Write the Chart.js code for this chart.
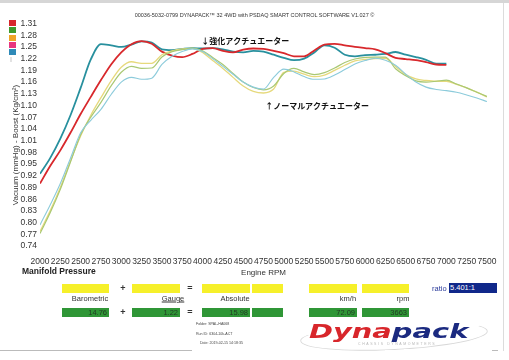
<!DOCTYPE html>
<html>
<head>
<meta charset="utf-8">
<title>Dynapack manifold pressure</title>
<script src="https://cdn.jsdelivr.net/npm/chart.js@4.4.1/dist/chart.umd.min.js"></script>
<style>
  html, body { margin: 0; padding: 0; background: #fff; }
  #page { position: relative; width: 509px; height: 360px; overflow: hidden; background: #fff;
          font-family: 'Liberation Sans', Arial, sans-serif; color: #222; }
  #edge-top { position: absolute; left: 0; top: 0; width: 509px; height: 3px; background: #d6d6d6; }
  #edge-right { position: absolute; left: 503px; top: 3px; width: 1px; height: 348px; background: #dcdcdc; }
  #chart-box { position: absolute; left: 0; top: 0; width: 509px; height: 285px; }
  #head { position: absolute; left: 0; width: 509px; top: 12px; text-align: center;
          font-size: 5.5px; color: #333; white-space: nowrap; }
  #ytitle { position: absolute; left: 15px; top: 145px; transform: translate(-50%, -50%) rotate(-90deg);
            font-size: 8px; white-space: nowrap; color: #333; }
  .leg { position: absolute; left: 9px; width: 7px; height: 6px; }
  #mp { position: absolute; left: 22px; top: 266px; font-weight: bold; font-size: 8.5px; color: #222; }
  .box { position: absolute; height: 9px; box-sizing: border-box; }
  .yel { background: #f6f02a; top: 284px; }
  .grn { background: #2f9636; top: 308px; color: #213d24; font-size: 7.5px; text-align: right;
         line-height: 9px; padding-right: 2px; }
  .op { position: absolute; font-size: 9px; font-weight: bold; color: #333; transform: translate(-50%, -50%); }
  .lab { position: absolute; top: 298px; font-size: 7.5px; color: #333; transform: translate(-50%, -50%); }
  #ratio { position: absolute; left: 432px; top: 284px; font-size: 7.5px; color: #2a3a9a; }
  #ratio-box { position: absolute; left: 449px; top: 283px; width: 48px; height: 10px; background: #10288a;
               color: #fff; font-size: 7.5px; line-height: 10px; padding-left: 1px; box-sizing: border-box; }
  .info { position: absolute; left: 196px; font-size: 3.6px; color: #444; white-space: nowrap; }
  #swoosh { position: absolute; left: 300px; top: 322px; width: 186px; height: 26px; border: 1.5px solid #d8d8d8;
            border-radius: 50%; transform: rotate(-3deg); border-top-color: transparent; }
  #logo { position: absolute; left: 309px; top: 321px; font-family: 'DejaVu Sans', sans-serif; font-weight: bold;
          font-style: italic; font-size: 19px; line-height: 20px; white-space: nowrap; transform-origin: left top;
          transform: scaleX(1.52); }
  #logo .a { color: #d8262b; }
  #logo .b { color: #1b2a80; }
  #logo-sub { position: absolute; left: 358px; top: 342px; font-size: 3.5px; color: #b8b8b8; letter-spacing: 1.6px; white-space: nowrap; }
  #rule-l { position: absolute; left: 0; top: 350px; width: 192px; height: 1px; background: #bbb; }
  #rule-r { position: absolute; left: 492px; top: 350px; width: 6px; height: 1px; background: #bbb; }
</style>
</head>
<body>
<div id="page">
  <div id="edge-top"></div>
  <div id="edge-right"></div>
  <div id="chart-box"><canvas id="chart" width="509" height="285"></canvas></div>
  <div id="head">00036-5032-0799 DYNAPACK™ 32 4WD with PSDAQ SMART CONTROL SOFTWARE V1.027 ©</div>
  <div id="ytitle">Vacuum (mmHg) - Boost (Kg/cm²)</div>
  <div id="legend"></div>
  <div id="mp">Manifold Pressure</div>
  <div id="panel"></div>
  <div id="swoosh"></div>
  <div id="logo"><span class="a">Dyna</span><span class="b">pack</span></div>
  <div id="logo-sub">CHASSIS DYNAMOMETERS</div>
  <div id="rule-l"></div>
  <div id="rule-r"></div>
</div>
<script>
// engine rpm grid (every 125 rpm)
const rpm = [2000, 2125, 2250, 2375, 2500, 2625, 2750, 2875, 3000, 3125, 3250, 3375, 3500, 3625, 3750,
             3875, 4000, 4125, 4250, 4375, 4500, 4625, 4750, 4875, 5000, 5125, 5250, 5375, 5500, 5625,
             5750, 5875, 6000, 6125, 6250, 6375, 6500, 6625, 6750, 6875, 7000, 7125, 7250, 7375, 7500];

// boost (Kg/cm2) - strong actuator runs
const strongRed = [0.900, 0.945, 0.985, 1.030, 1.078, 1.122, 1.165, 1.205, 1.236, 1.257, 1.265, 1.258, 1.238, 1.228, 1.224,
                   1.232, 1.245, 1.247, 1.240, 1.236, 1.243, 1.246, 1.245, 1.240, 1.234, 1.226, 1.226, 1.241, 1.256, 1.258,
                   1.254, 1.250, 1.247, 1.244, 1.234, 1.222, 1.219, 1.216, 1.211, 1.205, 1.204, null, null, null, null];
const strongBlue = [0.925, 0.965, 1.015, 1.075, 1.145, 1.218, 1.257, 1.254, 1.250, 1.256, 1.264, 1.261, 1.244, 1.242, 1.245,
                    1.247, 1.246, 1.247, 1.244, 1.238, 1.236, 1.240, 1.238, 1.230, 1.222, 1.216, 1.220, 1.236, 1.254, 1.248,
                    1.230, 1.226, 1.229, 1.230, 1.232, 1.237, 1.230, 1.224, 1.217, 1.207, 1.207, null, null, null, null];

// normal actuator runs
const normalYellow = [0.777, 0.830, 0.890, 0.958, 1.022, 1.075, 1.120, 1.163, 1.198, 1.212, 1.208, 1.208, 1.230, 1.240, 1.245,
                      1.246, 1.236, 1.215, 1.195, 1.172, 1.150, 1.136, 1.132, 1.142, 1.185, 1.188, 1.180, 1.174, 1.178, 1.190,
                      1.203, 1.214, 1.218, 1.220, 1.221, 1.200, 1.179, 1.168, 1.164, 1.162, 1.162, 1.154, 1.145, 1.134, 1.122];
const normalGreen = [0.772, 0.825, 0.885, 0.955, 1.025, 1.070, 1.108, 1.150, 1.185, 1.200, 1.195, 1.196, 1.224, 1.238, 1.243,
                     1.247, 1.240, 1.223, 1.205, 1.182, 1.160, 1.146, 1.140, 1.150, 1.182, 1.195, 1.186, 1.179, 1.184, 1.196,
                     1.210, 1.219, 1.223, 1.224, 1.224, 1.194, 1.176, 1.163, 1.160, 1.162, 1.165, 1.155, 1.145, 1.134, 1.123];
const normalCyan = [0.794, 0.845, 0.900, 0.965, 1.030, 1.062, 1.090, 1.128, 1.160, 1.172, 1.167, 1.170, 1.205, 1.226, 1.238,
                    1.245, 1.238, 1.220, 1.200, 1.180, 1.160, 1.147, 1.142, 1.172, 1.193, 1.186, 1.174, 1.167, 1.168, 1.178,
                    1.192, 1.206, 1.215, 1.221, 1.216, 1.203, 1.180, 1.160, 1.147, 1.141, 1.138, 1.134, 1.127, 1.119, 1.110];

// readout panel
const readLabels = ['Barometric', 'Gauge', 'Absolute', 'km/h', 'rpm'];
const readValues = ['14.76', '1.22', '15.98', '', '72.09', '3663'];
const gearRatio = '5.401:1';
const runInfo = ['Folder:  SPAL-HA068', 'Run ID:  6304-10k-ACT', 'Date:  2019-02-15 14:18:35'];

const legendColors = ['#d6262c', '#3e9a2d', '#f0a428', '#e8357f', '#2f8ab8'];

const notes = [
  { text: '↓強化アクチュエーター', rpm: 3985, value: 1.266 },
  { text: '↑ノーマルアクチュエーター', rpm: 4770, value: 1.100 }
];

// legend squares
const legend = document.getElementById('legend');
legendColors.forEach((c, i) => {
  const d = document.createElement('div');
  d.className = 'leg';
  d.style.top = (20 + i * 7.3) + 'px';
  d.style.background = c;
  legend.appendChild(d);
});
const faint = document.createElement('div');
faint.className = 'leg';
faint.style.cssText = 'top:57px;left:10px;width:2px;height:5px;background:#e2e2e2';
legend.appendChild(faint);

// readout boxes
const panel = document.getElementById('panel');
const boxX = [62, 132, 202, 252, 309, 362];
const boxW = [47, 48, 48, 31, 48, 47];
boxX.forEach((x, i) => {
  panel.insertAdjacentHTML('beforeend',
    `<div class="box yel" style="left:${x}px;width:${boxW[i]}px"></div>` +
    `<div class="box grn" style="left:${x}px;width:${boxW[i]}px">${readValues[i]}</div>`);
});
[['+', 123, 288], ['=', 190, 288], ['+', 123, 312], ['=', 190, 312]].forEach(([t, x, y]) => {
  panel.insertAdjacentHTML('beforeend', `<div class="op" style="left:${x}px;top:${y}px">${t}</div>`);
});
const labX = [90, 173, 235, 348, 403];
readLabels.forEach((t, i) => {
  const u = t === 'Gauge' ? 'text-decoration:underline;' : '';
  panel.insertAdjacentHTML('beforeend', `<div class="lab" style="left:${labX[i]}px;${u}">${t}</div>`);
});
panel.insertAdjacentHTML('beforeend', `<div id="ratio">ratio</div><div id="ratio-box">${gearRatio}</div>`);
runInfo.forEach((t, i) => {
  panel.insertAdjacentHTML('beforeend',
    `<div class="info" style="top:${322 + i * 9.5}px;left:${i === 2 ? 200 : 196}px">${t}</div>`);
});

// chart
const pts = arr => rpm.map((r, i) => ({ x: r, y: arr[i] })).filter(p => p.y !== null);

const notePlugin = {
  id: 'notes',
  afterDatasetsDraw(chart) {
    const { ctx, scales: { x, y } } = chart;
    ctx.save();
    ctx.font = 'bold 8px "Noto Sans CJK JP", sans-serif';
    ctx.fillStyle = '#111';
    ctx.textBaseline = 'middle';
    notes.forEach(n => ctx.fillText(n.text, x.getPixelForValue(n.rpm), y.getPixelForValue(n.value)));
    ctx.restore();
  }
};

Chart.defaults.font.family = "'Liberation Sans', Arial, sans-serif";

const line = (data, color, width) => ({
  data: pts(data),
  borderColor: color,
  backgroundColor: 'transparent',
  borderWidth: width,
  pointRadius: 0,
  cubicInterpolationMode: 'monotone',
  fill: false
});

new Chart(document.getElementById('chart').getContext('2d'), {
  type: 'line',
  data: {
    datasets: [
      line(normalCyan, '#8ccbdb', 1.1),
      line(normalGreen, '#a9c873', 1.2),
      line(normalYellow, '#e6d97c', 1.3),
      line(strongRed, '#d8282c', 1.8),
      line(strongBlue, '#28909e', 1.8)
    ]
  },
  options: {
    responsive: false,
    animation: false,
    layout: { padding: { left: 0, right: 22, top: 23.5, bottom: 0 } },
    plugins: {
      legend: { display: false },
      tooltip: { enabled: false }
    },
    scales: {
      x: {
        type: 'linear',
        min: 2000,
        max: 7500,
        ticks: {
          stepSize: 250,
          autoSkip: false,
          maxRotation: 0,
          padding: 11,
          color: '#333',
          font: { size: 8.5 },
          callback: v => String(v)
        },
        grid: { display: false, drawTicks: false },
        border: { display: false },
        title: { display: true, text: 'Engine RPM', color: '#333', font: { size: 8 }, padding: { top: 0, bottom: 7 } },
        afterFit: s => { s.height = 39; }
      },
      y: {
        min: 0.74,
        max: 1.31,
        ticks: {
          stepSize: 0.03,
          autoSkip: false,
          padding: 3,
          color: '#333',
          font: { size: 8.5 },
          callback: v => v.toFixed(2)
        },
        grid: { display: false, drawTicks: false },
        border: { display: false },
        afterFit: s => { s.width = 40; }
      }
    }
  },
  plugins: [notePlugin]
});
</script>
</body>
</html>
